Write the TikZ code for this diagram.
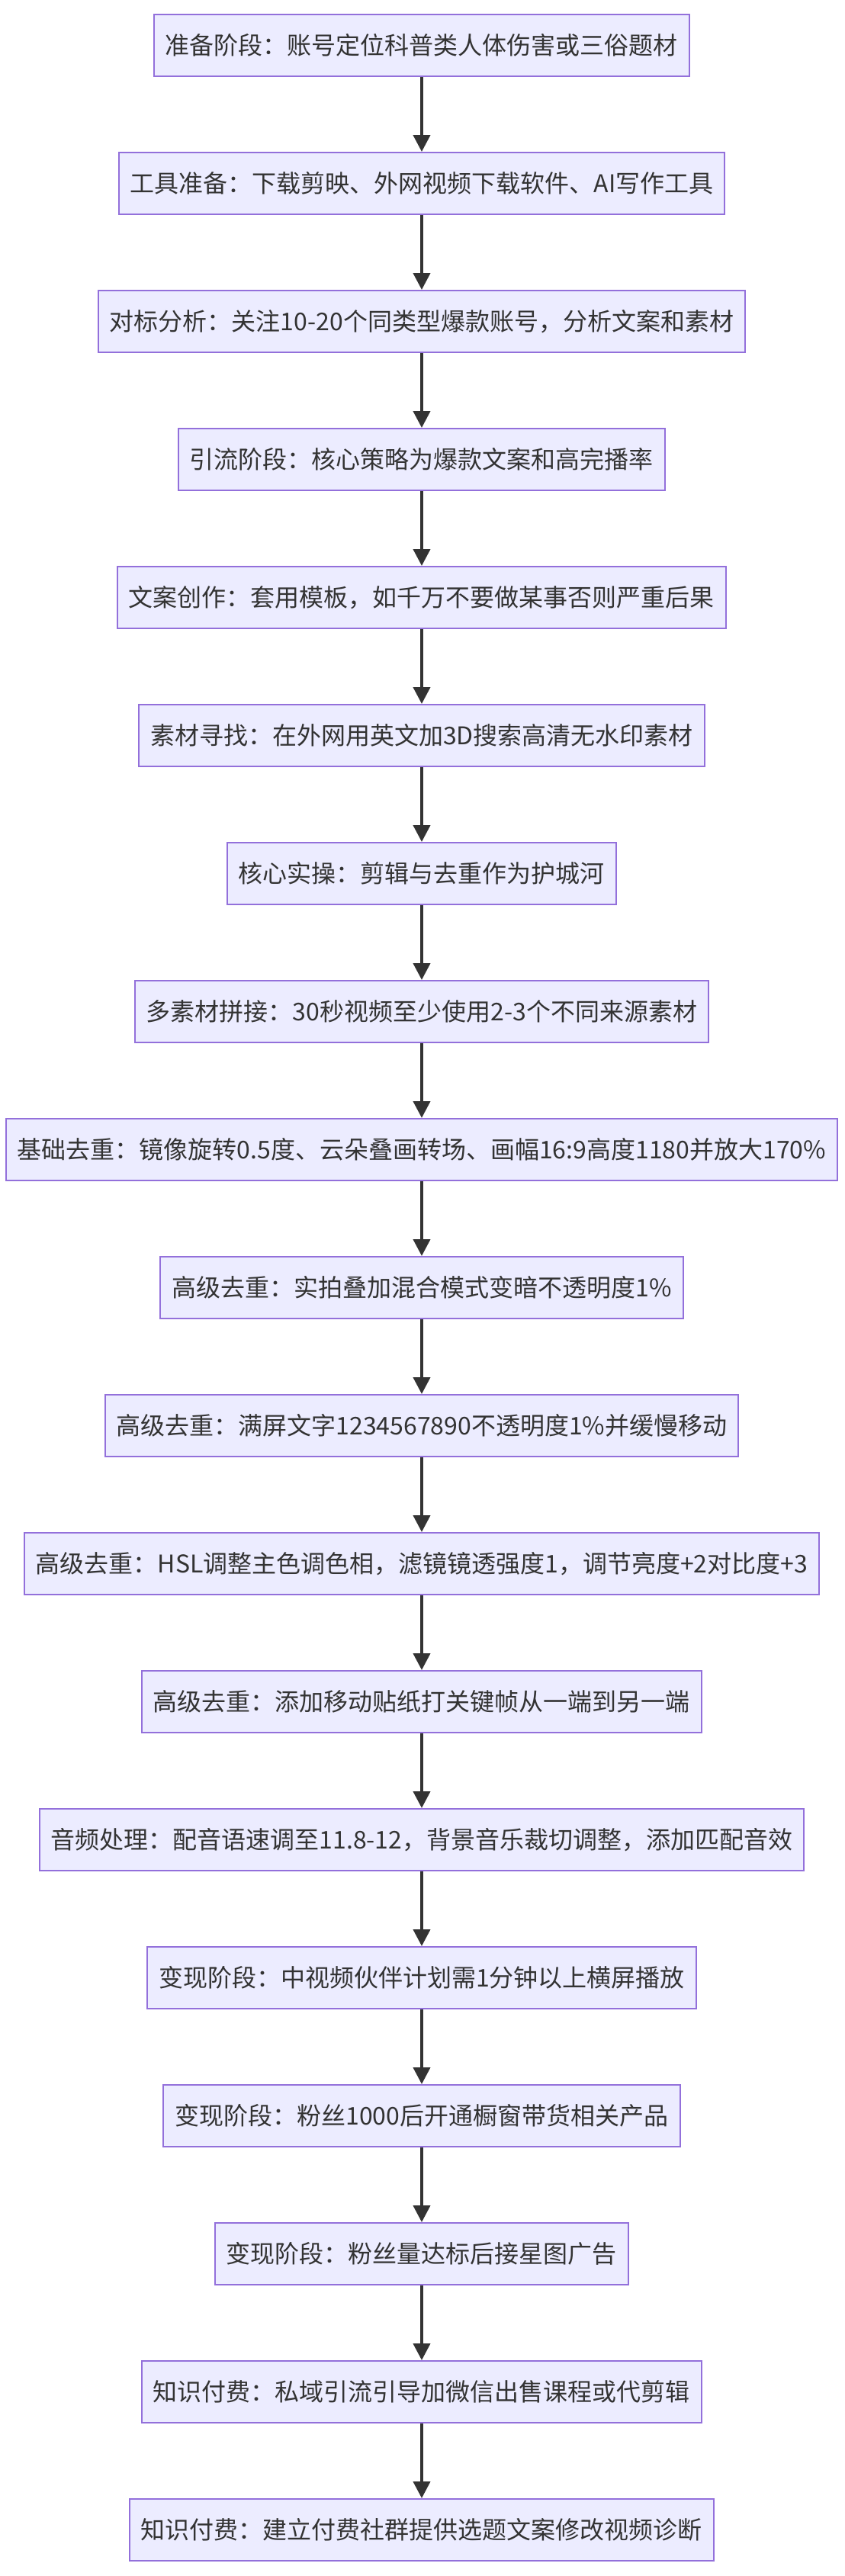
\documentclass[tikz,border=0pt]{standalone}
\usepackage{fontspec}
\setmainfont{Noto Sans CJK SC}
\usetikzlibrary{arrows.meta,positioning}
\definecolor{boxfill}{HTML}{ECECFF}
\definecolor{boxline}{HTML}{9370DB}
\definecolor{ink}{HTML}{333333}
\tikzset{
  lep/.style={draw=boxline,fill=boxfill,line width=1pt,text=ink,
    minimum height=40.5pt,inner xsep=7.5pt,inner ysep=0pt,
    font=\fontsize{16pt}{19pt}\selectfont},
  nyil/.style={draw=ink,line width=2pt,-{Triangle[length=11pt,width=11pt]}},
}
\begin{document}
\begin{tikzpicture}[node distance=49pt]
  \useasboundingbox (-276.5pt,9pt) rectangle (277.5pt,-1680pt);
  \node (prep) [lep,anchor=north] at (0,0) {准备阶段：账号定位科普类人体伤害或三俗题材};
  \node (tools) [lep,below=of prep] {工具准备：下载剪映、外网视频下载软件、AI写作工具};
  \node (bench) [lep,below=of tools] {对标分析：关注10-20个同类型爆款账号，分析文案和素材};
  \node (traffic) [lep,below=of bench] {引流阶段：核心策略为爆款文案和高完播率};
  \node (copy) [lep,below=of traffic] {文案创作：套用模板，如千万不要做某事否则严重后果};
  \node (footage) [lep,below=of copy] {素材寻找：在外网用英文加3D搜索高清无水印素材};
  \node (core) [lep,below=of footage] {核心实操：剪辑与去重作为护城河};
  \node (splice) [lep,below=of core] {多素材拼接：30秒视频至少使用2-3个不同来源素材};
  \node (basic) [lep,below=of splice] {基础去重：镜像旋转0.5度、云朵叠画转场、画幅16:9高度1180并放大170\%};
  \node (adva) [lep,below=of basic] {高级去重：实拍叠加混合模式变暗不透明度1\%};
  \node (advb) [lep,below=of adva] {高级去重：满屏文字1234567890不透明度1\%并缓慢移动};
  \node (advc) [lep,below=of advb] {高级去重：HSL调整主色调色相，滤镜镜透强度1，调节亮度+2对比度+3};
  \node (advd) [lep,below=of advc] {高级去重：添加移动贴纸打关键帧从一端到另一端};
  \node (audio) [lep,below=of advd] {音频处理：配音语速调至11.8-12，背景音乐裁切调整，添加匹配音效};
  \node (mona) [lep,below=of audio] {变现阶段：中视频伙伴计划需1分钟以上横屏播放};
  \node (monb) [lep,below=of mona] {变现阶段：粉丝1000后开通橱窗带货相关产品};
  \node (monc) [lep,below=of monb] {变现阶段：粉丝量达标后接星图广告};
  \node (paida) [lep,below=of monc] {知识付费：私域引流引导加微信出售课程或代剪辑};
  \node (paidb) [lep,below=of paida] {知识付费：建立付费社群提供选题文案修改视频诊断};
  \draw[nyil] (prep) -- (tools); \draw[nyil] (tools) -- (bench); \draw[nyil] (bench) -- (traffic);
  \draw[nyil] (traffic) -- (copy); \draw[nyil] (copy) -- (footage); \draw[nyil] (footage) -- (core);
  \draw[nyil] (core) -- (splice); \draw[nyil] (splice) -- (basic); \draw[nyil] (basic) -- (adva);
  \draw[nyil] (adva) -- (advb); \draw[nyil] (advb) -- (advc); \draw[nyil] (advc) -- (advd);
  \draw[nyil] (advd) -- (audio); \draw[nyil] (audio) -- (mona); \draw[nyil] (mona) -- (monb);
  \draw[nyil] (monb) -- (monc); \draw[nyil] (monc) -- (paida); \draw[nyil] (paida) -- (paidb);
\end{tikzpicture}
\end{document}
